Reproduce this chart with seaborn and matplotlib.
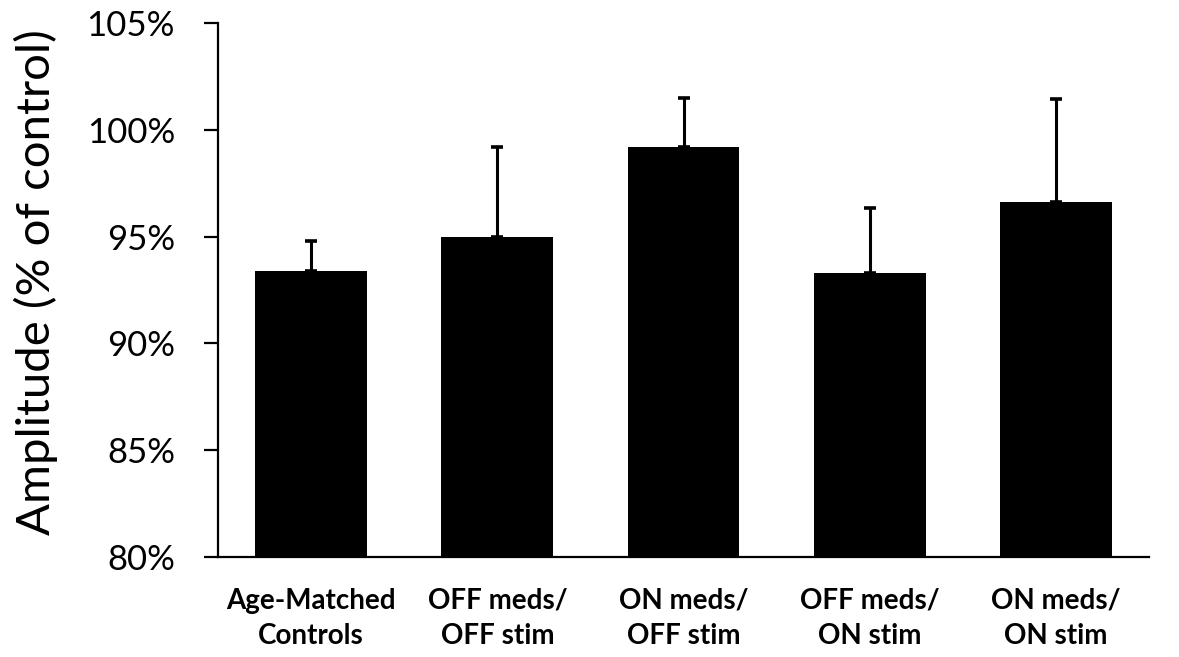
import matplotlib
matplotlib.use("Agg")
import matplotlib.pyplot as plt
from matplotlib.ticker import FuncFormatter
import seaborn as sns
import numpy as np

# Group labels (two lines each) and mean amplitude with upper error
groups = ["Age-Matched\nControls", "OFF meds/\nOFF stim", "ON meds/\nOFF stim",
          "OFF meds/\nON stim", "ON meds/\nON stim"]
amplitude = [93.4, 95.0, 99.2, 93.3, 96.6]
error_top = [94.8, 99.2, 101.5, 96.35, 101.45]
y_ticks = [80, 85, 90, 95, 100, 105]

sns.set_theme(style="white")
plt.rcParams["font.family"] = ["Lato", "DejaVu Sans"]

fig = plt.figure(figsize=(11.79, 6.57), dpi=100)
ax = fig.add_axes([0.1849, 0.1522, 0.9746 - 0.1849, 0.965 - 0.1522])

sns.barplot(x=groups, y=amplitude, color="black", width=0.6,
            saturation=1, edgecolor="black", linewidth=0, ax=ax)

upper = np.array(error_top) - np.array(amplitude)
ax.errorbar(np.arange(len(groups)), amplitude,
            yerr=[np.zeros(len(groups)), upper],
            fmt="none", ecolor="black", elinewidth=2.2, capsize=4, capthick=2.6)

ax.set_xlim(-0.5, 4.5)
ax.set_ylim(80, 105)
ax.set_yticks(y_ticks)
ax.yaxis.set_major_formatter(FuncFormatter(lambda v, _: f"{v:.0f}%"))

for side in ("top", "right"):
    ax.spines[side].set_visible(False)
for side in ("left", "bottom"):
    ax.spines[side].set_color("black")
    ax.spines[side].set_linewidth(1.6)

ax.tick_params(axis="y", direction="out", length=10, width=1.6, color="black",
               pad=21, labelsize=25, labelcolor="black", left=True)
ax.tick_params(axis="x", length=0, pad=22, labelcolor="black")
for lbl in ax.get_xticklabels():
    lbl.set_fontsize(20)
    lbl.set_fontweight("bold")
    lbl.set_linespacing(1.45)

ax.set_ylabel("Amplitude (% of control)", fontsize=34, color="black")
ax.yaxis.set_label_coords(-0.172, 0.515)
ax.set_xlabel("")

fig.savefig("out.png", dpi=100, facecolor="white")
